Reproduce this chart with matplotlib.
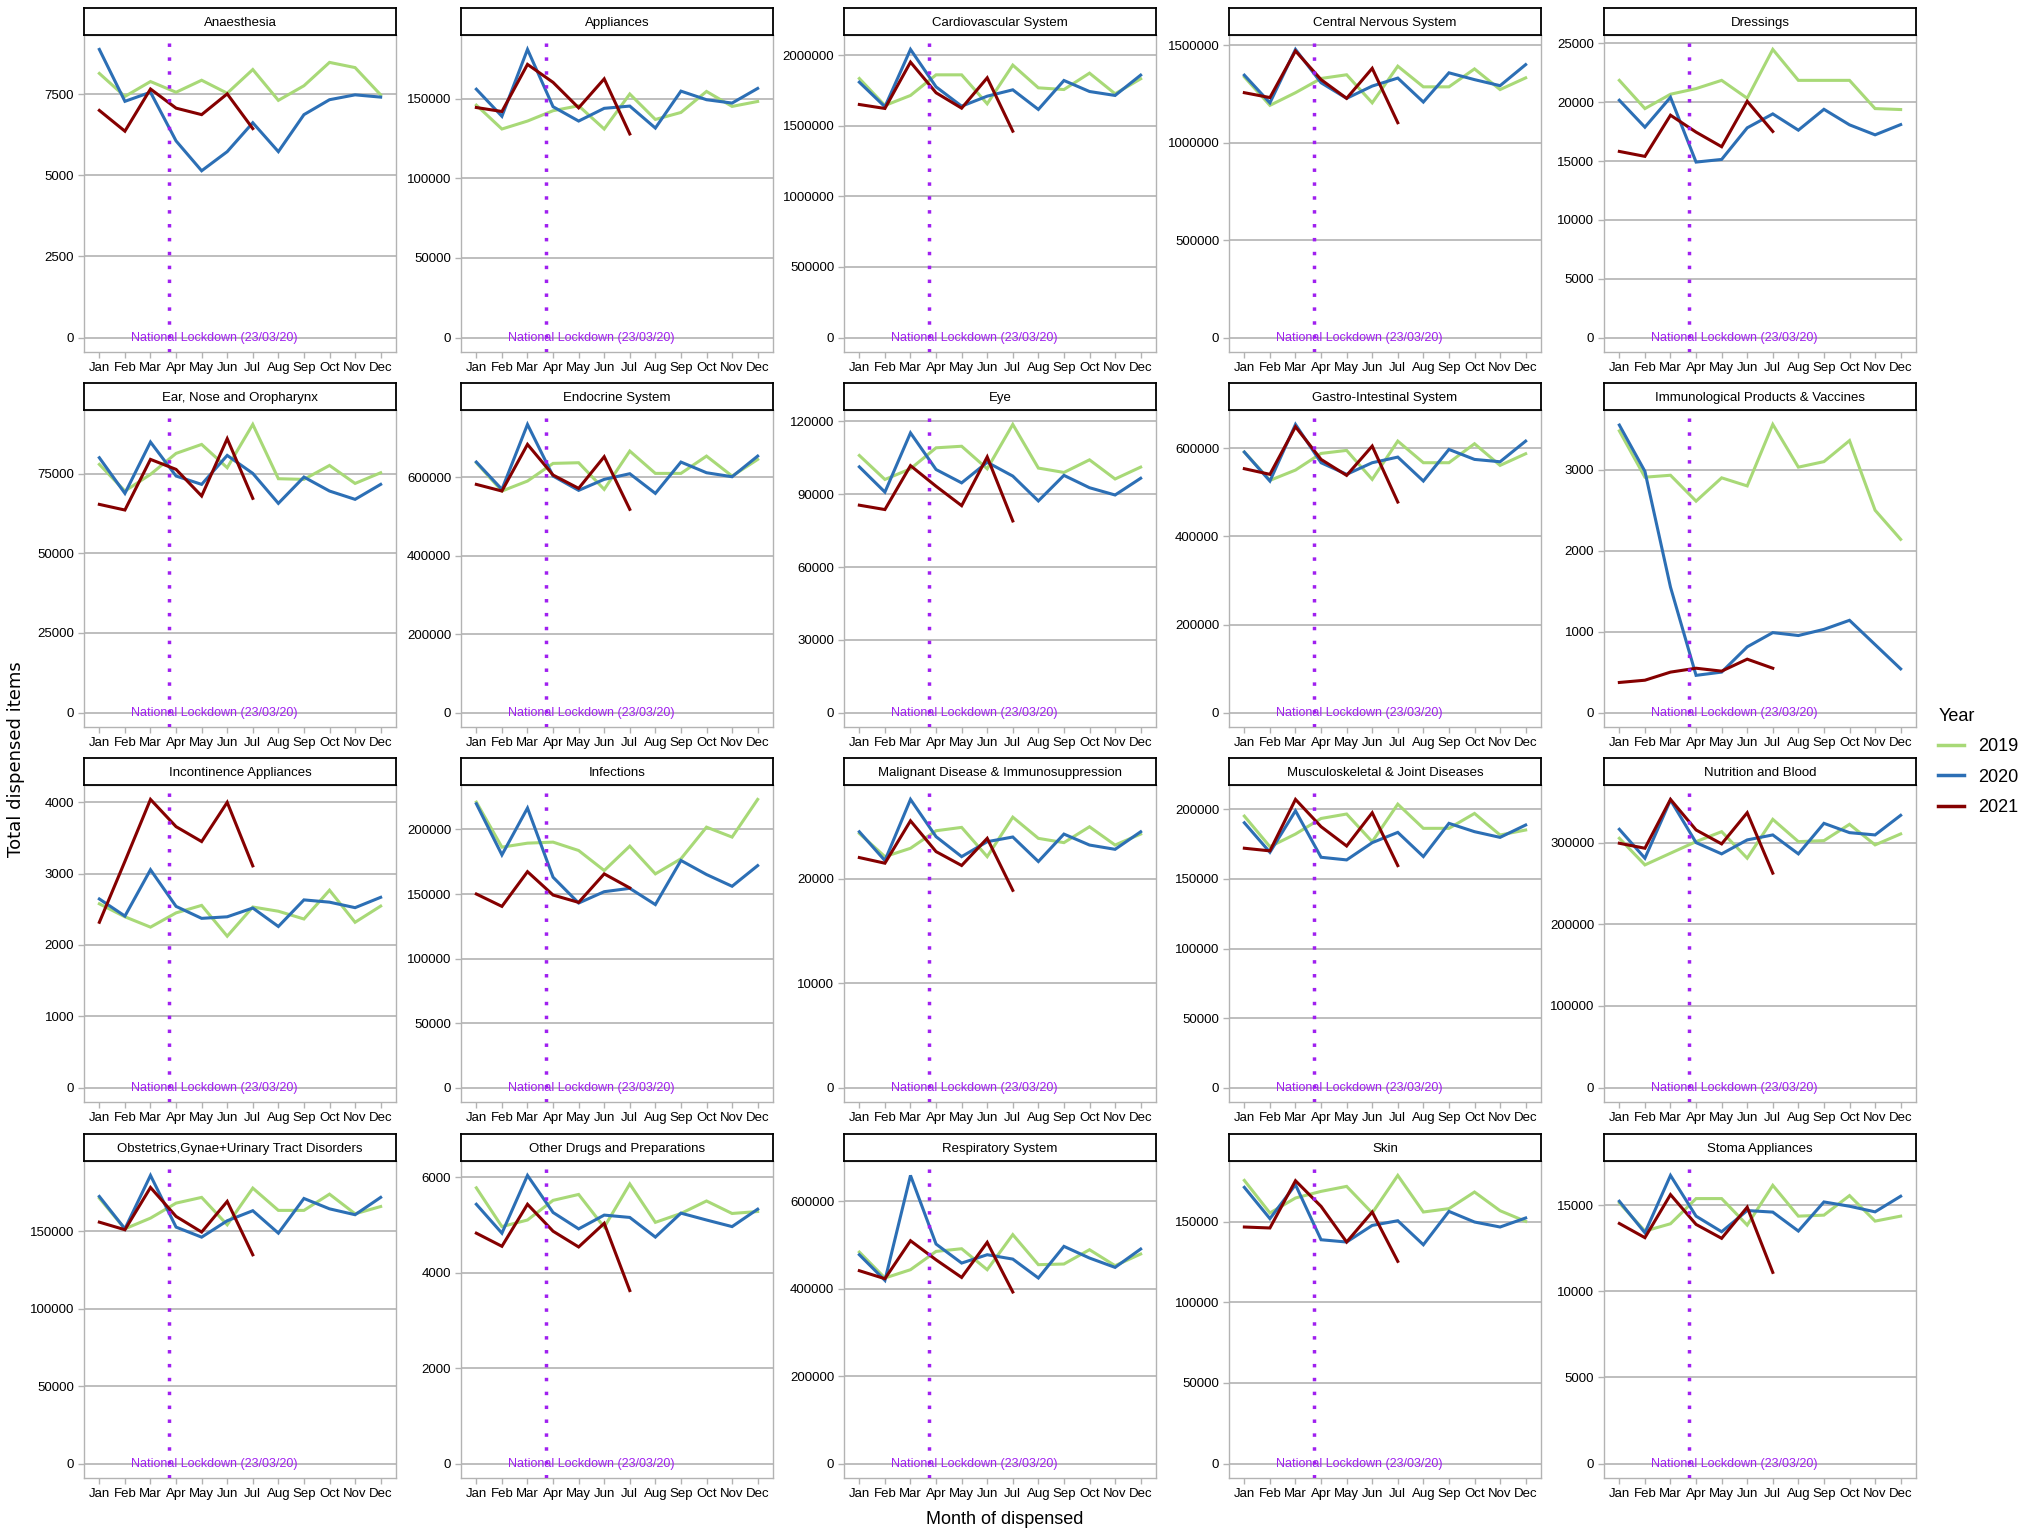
import matplotlib
matplotlib.use("Agg")
import matplotlib.pyplot as plt
from matplotlib.lines import Line2D

plt.rcParams['font.family'] = ['Liberation Sans', 'DejaVu Sans']

months = ["Jan", "Feb", "Mar", "Apr", "May", "Jun",
          "Jul", "Aug", "Sep", "Oct", "Nov", "Dec"]
years = ["2019", "2020", "2021"]

categories = [
    "Anaesthesia", "Appliances", "Cardiovascular System", "Central Nervous System", "Dressings",
    "Ear, Nose and Oropharynx", "Endocrine System", "Eye", "Gastro-Intestinal System",
    "Immunological Products & Vaccines",
    "Incontinence Appliances", "Infections", "Malignant Disease & Immunosuppression",
    "Musculoskeletal & Joint Diseases", "Nutrition and Blood",
    "Obstetrics,Gynae+Urinary Tract Disorders", "Other Drugs and Preparations",
    "Respiratory System", "Skin", "Stoma Appliances",
]

# one row per category, Jan..Dec
items_2019 = [
    [8140, 7430, 7890, 7560, 7930, 7530, 8260, 7310, 7760, 8480, 8320, 7480],
    [146000, 131000, 136000, 142500, 145600, 131000, 153000, 137000, 141400, 154600, 145200, 148300],
    [1834000, 1643000, 1714000, 1860000, 1860000, 1655000, 1929000, 1768000, 1756000, 1872000, 1726000, 1832000],
    [1337000, 1191000, 1256000, 1329000, 1348000, 1204000, 1392000, 1286000, 1286000, 1378000, 1272000, 1332000],
    [21860, 19460, 20680, 21160, 21860, 20340, 24490, 21860, 21860, 21860, 19460, 19380],
    [77930, 69560, 74800, 81380, 84200, 76880, 90480, 73430, 73220, 77600, 71950, 75300],
    [636500, 564400, 589800, 634800, 636500, 568600, 666200, 609300, 609300, 653400, 602500, 644900],
    [106000, 96100, 100500, 109150, 109800, 100500, 118800, 100800, 99000, 104200, 96300, 101200],
    [591700, 527400, 550800, 588600, 595500, 529600, 616600, 567500, 567500, 610600, 561400, 587900],
    [3480, 2908, 2932, 2612, 2900, 2800, 3560, 3032, 3100, 3360, 2500, 2140],
    [2577, 2395, 2250, 2450, 2555, 2123, 2532, 2473, 2364, 2768, 2318, 2545],
    [221200, 186300, 189400, 190200, 183700, 168200, 187100, 165600, 177300, 201800, 194100, 223300],
    [24340, 22120, 22920, 24600, 24920, 22120, 25900, 23870, 23460, 24980, 23230, 24280],
    [195200, 173200, 182300, 193500, 196700, 176800, 203800, 186400, 186400, 197100, 181600, 185200],
    [305300, 272700, 287000, 301200, 313400, 280900, 328500, 301200, 302400, 322400, 297200, 310600],
    [171500, 151700, 158600, 168300, 172000, 154300, 178000, 163600, 163600, 174100, 161400, 166100],
    [5780, 4968, 5106, 5518, 5642, 4955, 5862, 5057, 5243, 5505, 5243, 5284],
    [484100, 424700, 443700, 485600, 491700, 443700, 524000, 455200, 456700, 489500, 452900, 479600],
    [175600, 155400, 164700, 168800, 171900, 155400, 178700, 156000, 158100, 168400, 156800, 150200],
    [15135, 13500, 13923, 15385, 15385, 13846, 16154, 14365, 14423, 15558, 14077, 14365],
]

items_2020 = [
    [8880, 7280, 7560, 6060, 5140, 5730, 6620, 5730, 6870, 7330, 7480, 7410],
    [156000, 139000, 181000, 145000, 136000, 144000, 145400, 131600, 154800, 149400, 147300, 156500],
    [1808000, 1634000, 2040000, 1775000, 1638000, 1709000, 1754000, 1615000, 1820000, 1742000, 1714000, 1858000],
    [1346000, 1204000, 1478000, 1307000, 1227000, 1290000, 1331000, 1208000, 1358000, 1323000, 1292000, 1400000],
    [20170, 17880, 20420, 14915, 15140, 17825, 19010, 17627, 19400, 18080, 17230, 18100],
    [80020, 68830, 84940, 74270, 71650, 80750, 75100, 65690, 73950, 69560, 66950, 71650],
    [638200, 568600, 734100, 602500, 566100, 594100, 608500, 558400, 638200, 611000, 600800, 653400],
    [101300, 90900, 115300, 100200, 94700, 103200, 97500, 87250, 97800, 92700, 89700, 96600],
    [591700, 525900, 654500, 567500, 541100, 567500, 580300, 525900, 597700, 575000, 569700, 616600],
    [3552, 2980, 1550, 460, 500, 812, 988, 952, 1028, 1140, 840, 540],
    [2645, 2405, 3055, 2541, 2373, 2395, 2518, 2259, 2632, 2600, 2523, 2668],
    [219900, 180300, 216600, 163000, 143000, 151800, 154400, 141800, 176000, 165100, 156000, 172000],
    [24500, 21740, 27600, 24030, 22120, 23550, 24000, 21650, 24280, 23230, 22820, 24500],
    [190400, 169200, 199000, 165600, 163700, 176100, 183500, 166100, 190000, 184000, 179900, 188800],
    [316300, 280900, 352100, 300000, 286200, 303300, 309400, 286200, 323600, 312200, 309400, 333400],
    [172600, 151700, 186200, 152800, 146300, 156900, 163400, 148900, 171300, 164600, 160800, 172000],
    [5436, 4830, 6041, 5264, 4920, 5209, 5160, 4748, 5250, 5106, 4968, 5333],
    [478000, 419300, 659500, 502400, 458900, 478000, 468000, 424700, 497100, 470400, 449000, 491000],
    [171300, 151900, 172900, 138800, 137400, 147700, 150600, 135700, 156400, 149800, 146700, 152300],
    [15230, 13400, 16730, 14365, 13460, 14690, 14600, 13500, 15190, 14940, 14615, 15520],
]

# 2021 only runs Jan..Jul
items_2021 = [
    [7000, 6360, 7660, 7070, 6870, 7510, 6440],
    [144500, 142000, 171600, 160300, 144300, 162500, 127900],
    [1650000, 1622000, 1950000, 1733000, 1624000, 1839000, 1461000],
    [1256000, 1231000, 1470000, 1323000, 1227000, 1381000, 1102000],
    [15820, 15400, 18900, 17460, 16220, 20080, 17515],
    [65370, 63600, 79500, 76360, 68000, 85990, 67260],
    [581300, 564400, 683200, 605100, 571200, 651800, 517700],
    [85500, 83700, 101800, 93300, 85300, 105400, 79000],
    [553900, 541100, 649200, 575000, 538700, 605300, 478200],
    [372, 400, 500, 548, 512, 660, 548],
    [2318, 3173, 4041, 3659, 3450, 4000, 3109],
    [150000, 140400, 167300, 149200, 143500, 165600, 154700],
    [22030, 21490, 25550, 22600, 21270, 23870, 18890],
    [172100, 170200, 207200, 187600, 173700, 197600, 159600],
    [299200, 293100, 352900, 315500, 298400, 336600, 262600],
    [156000, 151100, 178400, 159700, 149600, 169400, 134900],
    [4830, 4555, 5436, 4871, 4541, 5037, 3627],
    [441400, 423100, 510000, 466300, 426000, 506300, 392700],
    [146700, 146100, 175400, 159500, 137400, 156000, 125400],
    [13940, 13115, 15615, 13885, 13077, 14885, 11100],
]

y_breaks = [
    [0, 2500, 5000, 7500],
    [0, 50000, 100000, 150000],
    [0, 500000, 1000000, 1500000, 2000000],
    [0, 500000, 1000000, 1500000],
    [0, 5000, 10000, 15000, 20000, 25000],
    [0, 25000, 50000, 75000],
    [0, 200000, 400000, 600000],
    [0, 30000, 60000, 90000, 120000],
    [0, 200000, 400000, 600000],
    [0, 1000, 2000, 3000],
    [0, 1000, 2000, 3000, 4000],
    [0, 50000, 100000, 150000, 200000],
    [0, 10000, 20000],
    [0, 50000, 100000, 150000, 200000],
    [0, 100000, 200000, 300000],
    [0, 50000, 100000, 150000],
    [0, 2000, 4000, 6000],
    [0, 200000, 400000, 600000],
    [0, 50000, 100000, 150000],
    [0, 5000, 10000, 15000],
]

colors = {"2019": "#a8d977", "2020": "#2c6fb5", "2021": "#850000"}
lockdown_x = 3 + 22 / 31
lockdown_label = "National Lockdown (23/03/20)"

W, H = 2040, 1529
fig = plt.figure(figsize=(W / 100, H / 100), dpi=100)

col_left = [84, 461, 844, 1229, 1604]
strip_top = [8, 383, 758, 1134]
pw, ph, sh = 312, 317, 27
grid_col = "#b3b3b3"
x = list(range(1, 13))

for i, cat in enumerate(categories):
    r, c = divmod(i, 5)
    left = col_left[c] / W
    ptop = strip_top[r] + sh
    ax = fig.add_axes([left, 1 - (ptop + ph) / H, pw / W, ph / H])
    st = fig.add_axes([left, 1 - ptop / H, pw / W, sh / H])

    st.set_xticks([])
    st.set_yticks([])
    for s in st.spines.values():
        s.set_color("black")
        s.set_linewidth(1.3)
    st.text(0.5, 0.45, cat, ha="center", va="center", fontsize=9.5, transform=st.transAxes)

    series = {"2019": items_2019[i], "2020": items_2020[i], "2021": items_2021[i]}
    for yr in years:
        vals = series[yr]
        ax.plot(x[:len(vals)], vals, color=colors[yr], lw=2.2, solid_joinstyle="miter", zorder=3)

    ymax = max(max(v) for v in series.values())
    ax.set_ylim(-0.05 * ymax, 1.05 * ymax)
    ax.set_xlim(0.4, 12.6)
    ax.set_xticks(x)
    ax.set_xticklabels(months)
    ax.set_yticks(y_breaks[i])
    ax.set_yticklabels([str(b) for b in y_breaks[i]])
    ax.yaxis.grid(True, color=grid_col, lw=1.2)
    ax.set_axisbelow(True)
    ax.tick_params(color=grid_col, labelcolor="black", length=4, width=1,
                   labelsize=9.5, pad=3)
    for s in ax.spines.values():
        s.set_color(grid_col)
        s.set_linewidth(1.0)

    ax.axvline(lockdown_x, color="#a020f0", lw=2.5, linestyle=(0, (1, 3)),
               dash_capstyle="butt", zorder=4)
    ax.text(5.5, 0, lockdown_label, color="#a020f0", ha="center", va="center",
            fontsize=9, zorder=5)

handles = [Line2D([], [], color=colors[yr], lw=2.5) for yr in years]
fig.legend(handles, years, title="Year", loc="center left",
           bbox_to_anchor=(1922 / W, 1 - 762 / H), frameon=False,
           fontsize=13, title_fontsize=13, handlelength=1.4,
           handletextpad=0.8, alignment="left", labelspacing=0.75)

fig.text(16 / W, 1 - 759 / H, "Total dispensed items", rotation=90,
         ha="center", va="center", fontsize=13, family=["DejaVu Sans"])
fig.text(1005 / W, 1 - 1519 / H, "Month of dispensed", ha="center", va="center",
         fontsize=13)

fig.savefig("out.png", dpi=100, facecolor="white")
